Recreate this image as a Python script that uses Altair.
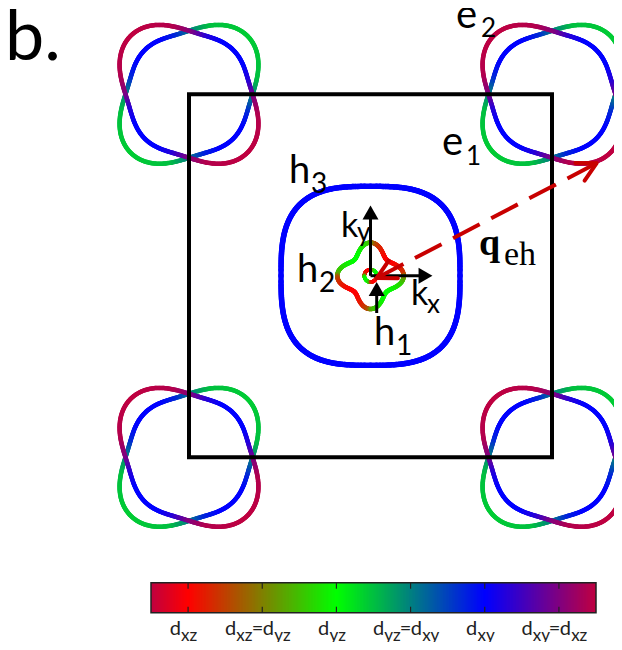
import numpy as np
import pandas as pd
import altair as alt

# ---------------- values ----------------
# orbital colour wheel used by the colour bar (value -> colour)
orb_stops = [-2, -1, 0, 1, 2, 3, 4, 5, 6]
orb_colors = ["#0000ff", "#800080", "#ff0000", "#808000", "#00ff00",
              "#008080", "#0000ff", "#800080", "#ff0000"]
bar_ticks = [0, 1, 2, 3, 4, 5]
bar_labels = [
    [("d", 0), ("xz", 1)],
    [("d", 0), ("xz", 1), ("=", 0), ("d", 0), ("yz", 1)],
    [("d", 0), ("yz", 1)],
    [("d", 0), ("yz", 1), ("=", 0), ("d", 0), ("xy", 1)],
    [("d", 0), ("xy", 1)],
    [("d", 0), ("xy", 1), ("=", 0), ("d", 0), ("xz", 1)],
]

# electron pockets at the zone corners (k in units of pi/a)
e_center_x = [-1, 1, -1, 1]
e_center_y = [1, 1, -1, -1]
e_r_tip = 0.455     # along the long diagonal
e_r_cross = 0.35    # where the two pockets cross (kx / ky direction)
e_r_side = 0.345    # across the short diagonal
e_angle = [0, 30, 45, 60, 75, 90]                 # degrees from the long axis
e_red_orb = [-0.5, -0.6, -1.0, -1.7, -2.0, -2.0]  # tips dxz, sides dxy
e_green_orb = [2.4, 2.5, 3.0, 3.7, 4.0, 4.0]      # tips dyz, sides dxy

# hole pockets at Gamma
h3_half = 0.493
h3_power = 3.0
h3_orb = 4.0
h2_r_tip = 0.183
h2_r_diag = 0.125
h1_r = 0.034

# q_eh arrow (start near Gamma, end at the electron pocket)
q_start = (0.035, -0.012)
q_end = (1.245, 0.62)

# ---------------- geometry helpers ----------------
PX = 181.5          # pixels per unit of k
CX, CY = 370.5, 275.8
W, H = 606, 634


def kx(px):
    return (px - CX) / PX


def ky(py):
    return (CY - py) / PX


xs = alt.Scale(domain=[kx(8), kx(8 + W)], nice=False, zero=False)
ys = alt.Scale(domain=[ky(8 + H), ky(8)], nice=False, zero=False)
cs = alt.Scale(domain=orb_stops, range=orb_colors, interpolate="rgb", clamp=True)

N = 360


def segments(x, y, orb):
    x2 = np.roll(x, -1)
    y2 = np.roll(y, -1)
    om = (orb + np.roll(orb, -1)) / 2
    return pd.DataFrame({"x": x, "y": y, "x2": x2, "y2": y2, "orb": om})


def seg_layer(df, w):
    return alt.Chart(df).mark_rule(strokeWidth=w, strokeCap="round").encode(
        x=alt.X("x:Q", scale=xs, axis=None),
        y=alt.Y("y:Q", scale=ys, axis=None),
        x2="x2:Q", y2="y2:Q",
        color=alt.Color("orb:Q", scale=cs, legend=None),
    )


# electron pockets
c1 = (e_r_tip - e_r_side) / 2
c0 = ((e_r_tip + e_r_side) / 2 + e_r_cross) / 2
c2 = ((e_r_tip + e_r_side) / 2 - e_r_cross) / 2
phi = np.linspace(0, 360, N, endpoint=False)
pr = np.radians(phi)
r_e = c0 + c1 * np.cos(2 * pr) + c2 * np.cos(4 * pr)
pf = np.mod(phi, 180)
pf = np.where(pf > 90, 180 - pf, pf)
orb_red = np.interp(pf, e_angle, e_red_orb)
orb_green = np.interp(pf, e_angle, e_green_orb)

e_frames = []
for cx_, cy_ in zip(e_center_x, e_center_y):
    th_g = np.radians(45) + pr
    e_frames.append(segments(cx_ + r_e * np.cos(th_g), cy_ + r_e * np.sin(th_g), orb_green))
    th_r = np.radians(135) + pr
    e_frames.append(segments(cx_ + r_e * np.cos(th_r), cy_ + r_e * np.sin(th_r), orb_red))
e_df = pd.concat(e_frames, ignore_index=True)

# hole pockets
t = np.linspace(0, 2 * np.pi, N, endpoint=False)
h3x = h3_half * np.sign(np.cos(t)) * np.abs(np.cos(t)) ** (2 / h3_power)
h3y = h3_half * np.sign(np.sin(t)) * np.abs(np.sin(t)) ** (2 / h3_power)
h3_df = segments(h3x, h3y, np.full(N, h3_orb))

a0 = (h2_r_tip + h2_r_diag) / 2
a1 = (h2_r_tip - h2_r_diag) / 2
r2 = a0 + a1 * np.cos(4 * t)
s2 = np.sin(2 * t)
orb_h2 = 1 - np.sign(s2) * np.abs(s2) ** 0.5
h2_df = segments(r2 * np.cos(t), r2 * np.sin(t), orb_h2)

orb_h1 = 1 + np.sign(s2) * np.abs(s2) ** 0.5
h1_df = segments(h1_r * np.cos(t), h1_r * np.sin(t), orb_h1)

layers = [seg_layer(e_df, 4.5), seg_layer(h3_df, 5.5), seg_layer(h2_df, 4.5), seg_layer(h1_df, 3.5)]

# Brillouin zone
bz = pd.DataFrame({"x": [-1], "x2": [1], "y": [-1], "y2": [1]})
layers.append(alt.Chart(bz).mark_rect(filled=False, stroke="black", strokeWidth=4).encode(
    x=alt.X("x:Q", scale=xs, axis=None), x2="x2:Q",
    y=alt.Y("y:Q", scale=ys, axis=None), y2="y2:Q"))

# k axes and h1 pointer (black arrows)
ax = pd.DataFrame({
    "x": [0, 0, kx(376.7)], "y": [0, 0, ky(313)],
    "x2": [kx(420), 0, kx(376.7)], "y2": [0, ky(216), ky(292)],
})
layers.append(alt.Chart(ax).mark_rule(strokeWidth=3, color="black").encode(
    x=alt.X("x:Q", scale=xs, axis=None), y=alt.Y("y:Q", scale=ys, axis=None),
    x2="x2:Q", y2="y2:Q"))
heads = pd.DataFrame({
    "x": [kx(425.5), 0, kx(376.7)], "y": [0, ky(212.5), ky(289)],
    "shape": ["triangle-right", "triangle-up", "triangle-up"],
})
layers.append(alt.Chart(heads).mark_point(filled=True, size=256, color="black", opacity=1).encode(
    x=alt.X("x:Q", scale=xs, axis=None), y=alt.Y("y:Q", scale=ys, axis=None),
    shape=alt.Shape("shape:N", scale=None)))

# q_eh dashed double arrow
qred = "#c80000"
qd = pd.DataFrame({"x": [q_start[0]], "y": [q_start[1]], "x2": [q_end[0]], "y2": [q_end[1]]})
layers.append(alt.Chart(qd).mark_rule(strokeWidth=4, color=qred, strokeDash=[30, 13]).encode(
    x=alt.X("x:Q", scale=xs, axis=None), y=alt.Y("y:Q", scale=ys, axis=None),
    x2="x2:Q", y2="y2:Q"))
ang = np.arctan2(q_end[1] - q_start[1], q_end[0] - q_start[0])
arm = 21 / PX
spread = np.radians(28)
chev = []
for (tx, ty), base in [(q_end, ang + np.pi), (q_start, ang)]:
    for sgn in (1, -1):
        a = base + sgn * spread
        chev.append({"x": tx, "y": ty, "x2": tx + arm * np.cos(a), "y2": ty + arm * np.sin(a)})
layers.append(alt.Chart(pd.DataFrame(chev)).mark_rule(strokeWidth=4, color=qred, strokeCap="round").encode(
    x=alt.X("x:Q", scale=xs, axis=None), y=alt.Y("y:Q", scale=ys, axis=None),
    x2="x2:Q", y2="y2:Q"))

# text labels (left edge, baseline in page pixels)
lab = pd.DataFrame([
    ("b.", 5, 60, 70),
    ("e", 456, 28, 40), ("2", 481, 37, 26),
    ("e", 442, 155, 40), ("1", 466, 165, 26),
    ("h", 289, 183, 38), ("3", 311, 193, 28),
    ("h", 297, 282, 38), ("2", 319, 292, 28),
    ("h", 374, 345, 38), ("1", 396, 355, 28),
    ("k", 341, 237, 34), ("y", 357, 241, 26),
    ("k", 411, 305, 34), ("x", 427, 313, 26),
], columns=["text", "px", "py", "fs"])
lab["x"] = kx(lab["px"])
lab["y"] = ky(lab["py"])
layers.append(alt.Chart(lab).mark_text(font="Lato", align="left", baseline="alphabetic", color="black").encode(
    x=alt.X("x:Q", scale=xs, axis=None), y=alt.Y("y:Q", scale=ys, axis=None),
    text="text:N", size=alt.Size("fs:Q", scale=None)))
qlab = pd.DataFrame([("q", kx(479), ky(255), 38, "bold"), ("eh", kx(504), ky(265), 34, "normal")],
                    columns=["text", "x", "y", "fs", "fw"])
layers.append(alt.Chart(qlab[qlab.fw == "bold"]).mark_text(font="Liberation Serif", fontWeight="bold", align="left",
                                                          baseline="alphabetic", color="black").encode(
    x=alt.X("x:Q", scale=xs, axis=None), y=alt.Y("y:Q", scale=ys, axis=None),
    text="text:N", size=alt.Size("fs:Q", scale=None)))
layers.append(alt.Chart(qlab[qlab.fw == "normal"]).mark_text(font="Liberation Serif", align="left",
                                                            baseline="alphabetic", color="black").encode(
    x=alt.X("x:Q", scale=xs, axis=None), y=alt.Y("y:Q", scale=ys, axis=None),
    text="text:N", size=alt.Size("fs:Q", scale=None)))

main = alt.layer(*layers)

# ---------------- colour bar ----------------
BPX = (596 - 151) / 6.0       # pixels per orbital unit on the bar
vs = alt.Scale(domain=[-0.5 - (151 - 8) / BPX, 5.5 + (8 + W - 596) / BPX], nice=False, zero=False)
top, bot = 582.7 - 8, 612.7 - 8
edges = np.linspace(-0.5, 5.5, 301)
cells = pd.DataFrame({"v": edges[:-1], "v2": np.minimum(edges[1:] + 1.2 / BPX, 5.5),
                      "orb": (edges[:-1] + edges[1:]) / 2})
bar = [alt.Chart(cells).mark_rect(strokeWidth=0).encode(
    x=alt.X("v:Q", scale=vs, axis=None), x2="v2:Q",
    y=alt.value(top), y2=alt.value(bot),
    color=alt.Color("orb:Q", scale=cs, legend=None))]
tk = pd.DataFrame({"v": bar_ticks})
for y0, y1 in [(top, top + 6), (bot - 6, bot)]:
    bar.append(alt.Chart(tk).mark_rule(color="#222222", strokeWidth=1.2).encode(
        x=alt.X("v:Q", scale=vs, axis=None), y=alt.value(y0), y2=alt.value(y1)))
frame = pd.DataFrame({"v": [-0.5], "v2": [5.5]})
bar.append(alt.Chart(frame).mark_rect(filled=False, stroke="#222222", strokeWidth=1.5).encode(
    x=alt.X("v:Q", scale=vs, axis=None), x2="v2:Q", y=alt.value(top), y2=alt.value(bot)))

cw = {"d": 0.565, "x": 0.47, "y": 0.47, "z": 0.43, "=": 0.56}
SMAIN, SSUB = 20, 17
rows_main, rows_sub = [], []
for tick, pieces in zip(bar_ticks, bar_labels):
    widths = [sum(cw[c] for c in txt) * (SSUB if sub else SMAIN) for txt, sub in pieces]
    x0 = tick * BPX - 5 - sum(widths) / 2
    for (txt, sub), w in zip(pieces, widths):
        (rows_sub if sub else rows_main).append({"text": txt, "v": x0 / BPX})
        x0 += w
for rows, yb, fs in [(rows_main, 635 - 8, SMAIN), (rows_sub, 640.5 - 8, SSUB)]:
    bar.append(alt.Chart(pd.DataFrame(rows)).mark_text(font="Lato", fontSize=fs, align="left",
                                                        baseline="alphabetic", color="#222222").encode(
        x=alt.X("v:Q", scale=vs, axis=None), y=alt.value(yb), text="text:N"))

barchart = alt.layer(*bar)

chart = alt.layer(main, barchart).resolve_scale(x="independent", y="independent").properties(
    width=W, height=H, padding=0, autosize=alt.AutoSizeParams(type="none"),
    background="white",
).configure_view(stroke=None)

chart.save("out.html", embed_options={"renderer": "svg", "actions": False})
